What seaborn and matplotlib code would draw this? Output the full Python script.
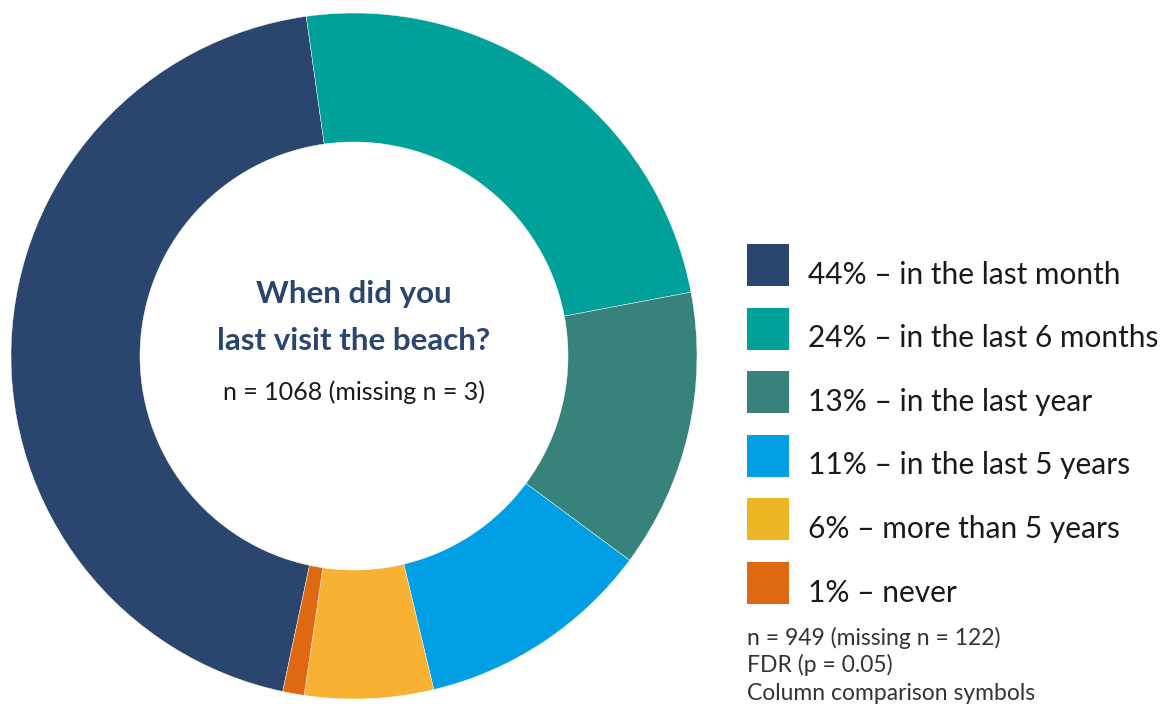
import matplotlib
matplotlib.use("Agg")
import matplotlib.pyplot as plt
from matplotlib.patches import Rectangle
import seaborn as sns

# Survey answers: "When did you last visit the beach?"
answers = ["in the last month", "in the last 6 months", "in the last year",
           "in the last 5 years", "more than 5 years", "never"]
shares = [44, 24, 13, 11, 6, 1]
ring_colors = ["#2A466E", "#00A19A", "#37827A", "#009FE3", "#F8B133", "#DF6912"]
key_colors = ["#2A466E", "#00A19A", "#37827A", "#009FE3", "#EBB725", "#DF6912"]

title_lines = ["When did you", "last visit the beach?"]
center_note = "n = 1068 (missing n = 3)"
foot_notes = ["n = 949 (missing n = 122)", "FDR (p = 0.05)", "Column comparison symbols"]

sns.set_theme(style="white")
plt.rcParams["font.family"] = ["Lato", "DejaVu Sans"]

W, H = 1162, 719
fig = plt.figure(figsize=(W / 100, H / 100), dpi=100)
fig.patch.set_facecolor("white")


def fx(px):
    return px / W


def fy(py):
    return 1 - py / H


# Donut occupies a square region centred on the left half
cx, cy, R = 354, 356, 343
ax = fig.add_axes([fx(cx - R), fy(cy + R), 2 * R / W, 2 * R / H])
ax.pie(shares, colors=ring_colors, startangle=-102, counterclock=False,
       radius=1.0,
       wedgeprops=dict(width=0.376, edgecolor="white", linewidth=0.3))
ax.set_xlim(-1, 1)
ax.set_ylim(-1, 1)
ax.set_aspect("equal")
ax.axis("off")

# Centre text
navy = "#2A466E"
fig.text(fx(cx), fy(303), title_lines[0], ha="center", va="baseline",
         fontsize=22.5, fontweight="bold", color=navy)
fig.text(fx(cx), fy(350), title_lines[1], ha="center", va="baseline",
         fontsize=22.5, fontweight="bold", color=navy)
fig.text(fx(cx), fy(400), center_note, ha="center", va="baseline",
         fontsize=18, color="#1A1A1A")

# Legend: coloured squares with percentage labels
sq = 42
top0, step = 244, 63.6
for i, (ans, v, col) in enumerate(zip(answers, shares, key_colors)):
    top = top0 + i * step
    fig.add_artist(Rectangle((fx(747), fy(top + sq)), sq / W, sq / H,
                             transform=fig.transFigure, facecolor=col,
                             edgecolor="none"))
    fig.text(fx(808), fy(top + 39.5), f"{v}% \u2013 {ans}", ha="left",
             va="baseline", fontsize=21.5, color="#1A1A1A")

# Footnotes under the legend
for j, line in enumerate(foot_notes):
    fig.text(fx(747), fy(645 + 27.5 * j), line, ha="left", va="baseline",
             fontsize=16.5, color="#333333")

fig.savefig("out.png", dpi=100, facecolor="white")
